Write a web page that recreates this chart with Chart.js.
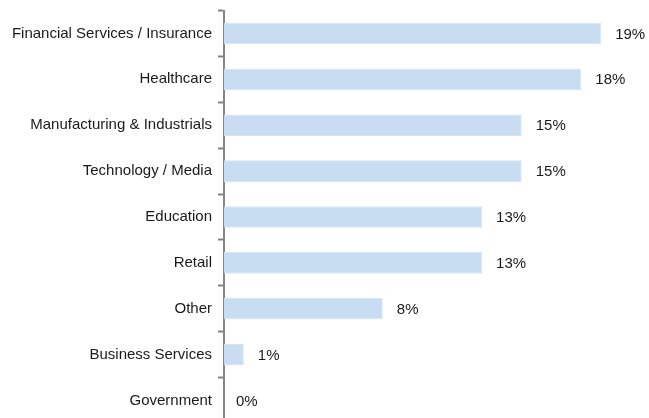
<!DOCTYPE html>
<html>
<head>
<meta charset="utf-8">
<script src="https://cdn.jsdelivr.net/npm/chart.js@4/dist/chart.umd.min.js"></script>
<style>
  html, body { margin: 0; padding: 0; background: #fff; overflow: hidden; }
  #wrap { position: relative; width: 649px; height: 430px; }
</style>
</head>
<body>
<div id="wrap"><canvas id="chart"></canvas></div>
<script>
// sector split, in percent
var sectors = [
  'Financial Services / Insurance', 'Healthcare', 'Manufacturing & Industrials',
  'Technology / Media', 'Education', 'Retail', 'Other', 'Business Services', 'Government'
];
var shares = [19, 18, 15, 15, 13, 13, 8, 1, 0];

var FONT = '"Liberation Sans", Arial, sans-serif';
var TEXT = '#1a1a1a';
var AXIS = '#858585';

// percentage labels just past the end of each bar
var valueLabels = {
  id: 'valueLabels',
  afterDatasetsDraw: function (chart) {
    var ctx = chart.ctx;
    var meta = chart.getDatasetMeta(0);
    ctx.save();
    ctx.font = '15px ' + FONT;
    ctx.fillStyle = TEXT;
    ctx.textAlign = 'left';
    ctx.textBaseline = 'middle';
    meta.data.forEach(function (bar, i) {
      var gap = shares[i] === 0 ? 12 : 14;
      ctx.fillText(shares[i] + '%', bar.x + gap, bar.y + 1);
    });
    ctx.restore();
  }
};

new Chart(document.getElementById('chart'), {
  type: 'bar',
  data: {
    labels: sectors,
    datasets: [{
      data: shares,
      backgroundColor: '#c9ddf2',
      borderColor: '#d6e6f6',
      borderWidth: 1,
      borderSkipped: 'left',
      barPercentage: 0.94,
      categoryPercentage: 0.5
    }]
  },
  options: {
    indexAxis: 'y',
    responsive: true,
    maintainAspectRatio: false,
    animation: false,
    layout: { padding: { top: 10.5, right: 28, bottom: 6.5, left: 0 } },
    plugins: { legend: { display: false }, tooltip: { enabled: false } },
    scales: {
      x: { display: false, min: 0, max: 20 },
      y: {
        afterFit: function (s) {
          s.width = 224;
          // labels sit between ticks, no overflow room needed
          s.paddingTop = 0;
          s.paddingBottom = 0;
        },
        border: { display: true, color: AXIS, width: 2 },
        grid: {
          offset: true,
          drawOnChartArea: false,
          drawTicks: true,
          tickLength: 6,
          tickWidth: 2,
          tickColor: AXIS
        },
        ticks: {
          color: TEXT,
          padding: 6,
          font: { family: FONT, size: 15 }
        }
      }
    }
  },
  plugins: [valueLabels]
});
</script>
</body>
</html>
